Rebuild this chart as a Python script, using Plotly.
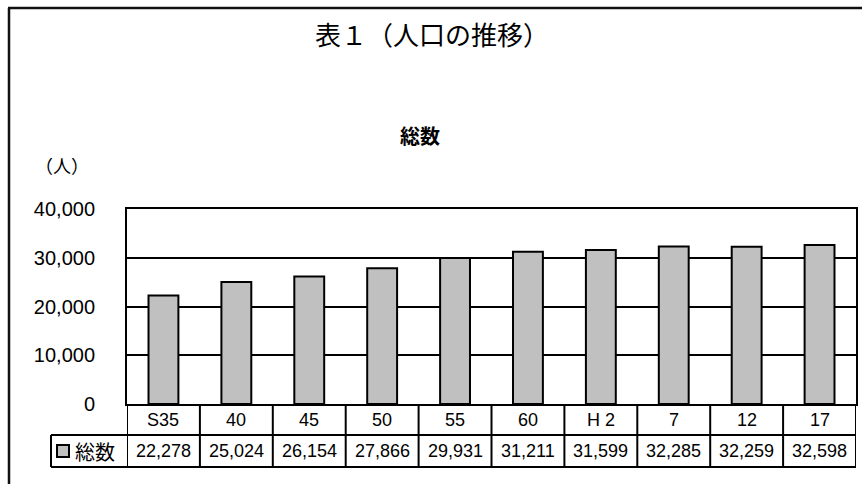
import plotly.graph_objects as go

# Population by census year (Showa 35 .. Heisei 17)
categories = ["S35", "40", "45", "50", "55", "60", "H 2", "7", "12", "17"]
population = [22278, 25024, 26154, 27866, 29931, 31211, 31599, 32285, 32259, 32598]
y_ticks = [0, 10000, 20000, 30000, 40000]
y_tick_labels = ["0", "10,000", "20,000", "30,000", "40,000"]
series_name = "総数"

W, H = 862, 484


def px_x(x):
    return x / W


def px_y(y):
    return 1 - y / H


# plot area / table geometry in pixels
PLOT_L, PLOT_R, PLOT_T, PLOT_B = 127, 856, 209, 404
ROW1_B = 435
ROW2_B = 467
LEG_L = 51

JP = "Liberation Sans, Arial, Noto Sans CJK JP, sans-serif"
BAR_FILL = "#c0c0c0"

# positional index of each category on the x axis
idx = list(range(len(categories)))

fig = go.Figure(
    go.Bar(
        x=idx,
        y=population,
        name=series_name,
        width=0.41,
        marker=dict(color=BAR_FILL, line=dict(color="black", width=2)),
        customdata=categories,
        hovertemplate="%{customdata}: %{y:,}<extra></extra>",
    )
)

shapes = []
annotations = []

# outer frame: only its left and top edges fall inside the page
shapes.append(dict(type="line", xref="paper", yref="paper",
                   x0=px_x(9), x1=px_x(9), y0=0, y1=px_y(8),
                   line=dict(color="#111", width=2.5), layer="below"))
shapes.append(dict(type="line", xref="paper", yref="paper",
                   x0=px_x(8), x1=1, y0=px_y(8), y1=px_y(8),
                   line=dict(color="#111", width=2.5), layer="below"))

# table horizontal rules
for yy in (ROW1_B, ROW2_B):
    shapes.append(dict(type="line", xref="paper", yref="paper",
                       x0=px_x(LEG_L), x1=px_x(PLOT_R), y0=px_y(yy), y1=px_y(yy),
                       line=dict(color="black", width=2)))
# table vertical rules at category boundaries
for i in range(len(categories) + 1):
    shapes.append(dict(type="line", xref="x", yref="paper",
                       x0=i - 0.5, x1=i - 0.5, y0=px_y(PLOT_B), y1=px_y(ROW2_B),
                       line=dict(color="black", width=2)))
# legend cell left edge
shapes.append(dict(type="line", xref="paper", yref="paper",
                   x0=px_x(LEG_L), x1=px_x(LEG_L), y0=px_y(ROW1_B), y1=px_y(ROW2_B),
                   line=dict(color="black", width=2)))
# legend key swatch
shapes.append(dict(type="rect", xref="paper", yref="paper",
                   x0=px_x(57), x1=px_x(69), y0=px_y(457), y1=px_y(445),
                   fillcolor=BAR_FILL, line=dict(color="black", width=2)))

# category labels and values
for i, (cat, val) in enumerate(zip(categories, population)):
    annotations.append(dict(x=i, xref="x", y=px_y((PLOT_B + ROW1_B) / 2), yref="paper",
                            text=cat, showarrow=False, xanchor="center", yanchor="middle",
                            font=dict(family=JP, size=18, color="black")))
    annotations.append(dict(x=i, xref="x", y=px_y((ROW1_B + ROW2_B) / 2), yref="paper",
                            text=f"{val:,}", showarrow=False, xanchor="center", yanchor="middle",
                            font=dict(family=JP, size=18, color="black")))

# legend label
annotations.append(dict(x=px_x(73), xref="paper", y=px_y((ROW1_B + ROW2_B) / 2), yref="paper",
                        text=series_name, showarrow=False, xanchor="left", yanchor="middle",
                        font=dict(family="Noto Sans CJK JP", size=20, color="black")))

# titles
annotations.append(dict(x=px_x(432), xref="paper", y=px_y(34), yref="paper",
                        text="表１（人口の推移）", showarrow=False, xanchor="center", yanchor="middle",
                        font=dict(family="Noto Sans CJK JP", size=26, color="black")))
annotations.append(dict(x=px_x(420), xref="paper", y=px_y(135), yref="paper",
                        text="<b>総数</b>", showarrow=False, xanchor="center", yanchor="middle",
                        font=dict(family="Noto Sans CJK JP", size=20, color="black")))
annotations.append(dict(x=px_x(62), xref="paper", y=px_y(165), yref="paper",
                        text="（人）", showarrow=False, xanchor="center", yanchor="middle",
                        font=dict(family="Noto Sans CJK JP", size=18, color="black")))

fig.update_layout(
    template="none",
    width=W, height=H,
    margin=dict(l=0, r=0, t=0, b=0, pad=0, autoexpand=False),
    paper_bgcolor="white",
    plot_bgcolor="white",
    showlegend=False,
    shapes=shapes,
    annotations=annotations,
    xaxis=dict(
        domain=[px_x(PLOT_L), px_x(PLOT_R)],
        range=[-0.5, len(categories) - 0.5],
        showticklabels=False, ticks="", automargin=False,
        showgrid=False, zeroline=False,
        showline=True, mirror=True, linecolor="black", linewidth=2,
        fixedrange=True,
    ),
    yaxis=dict(
        domain=[px_y(PLOT_B), px_y(PLOT_T)],
        range=[0, 40000],
        tickvals=y_ticks, ticktext=y_tick_labels,
        tickfont=dict(family=JP, size=20, color="black"),
        ticks="", ticklabelstandoff=26, automargin=False,
        showgrid=True, gridcolor="black", gridwidth=2,
        zeroline=False,
        showline=True, mirror=True, linecolor="black", linewidth=2,
        fixedrange=True,
    ),
)

fig.write_html("out.html")
